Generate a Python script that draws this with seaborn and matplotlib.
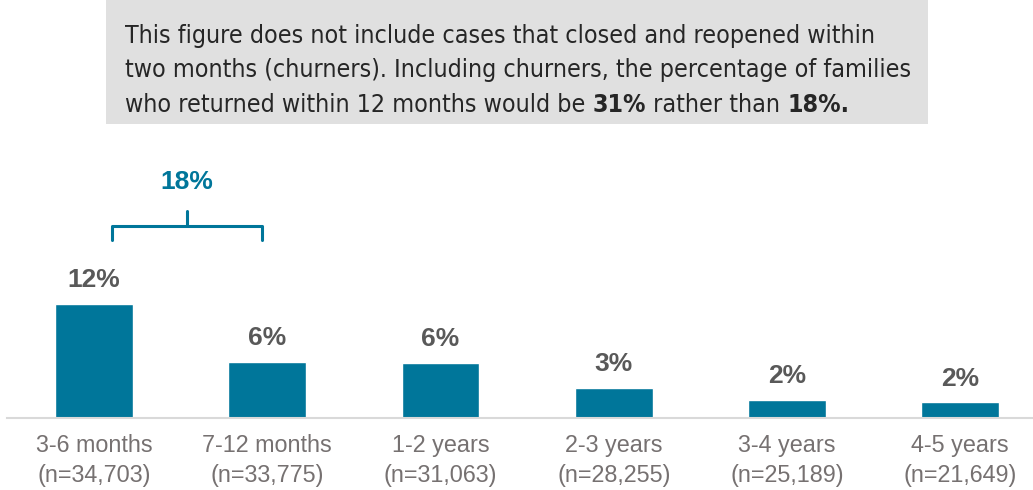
import matplotlib
matplotlib.use("Agg")
import matplotlib.pyplot as plt
import seaborn as sns
from matplotlib.patches import Rectangle

categories = ["3-6 months", "7-12 months", "1-2 years", "2-3 years", "3-4 years", "4-5 years"]
counts = ["n=34,703", "n=33,775", "n=31,063", "n=28,255", "n=25,189", "n=21,649"]
values = [12.0, 5.9, 5.8, 3.1, 1.9, 1.6]
value_labels = ["12%", "6%", "6%", "3%", "2%", "2%"]
bracket_label = "18%"

sns.set_theme(style="white")
plt.rcParams["font.family"] = ["Liberation Sans", "DejaVu Sans"]

BAR = "#00769a"
DARK = "#595959"
TICK = "#767171"

W, H = 1033, 490
fig = plt.figure(figsize=(W / 100, H / 100), dpi=100)
left_px, base_px = 7.4, 417.5
ax = fig.add_axes([left_px / W, (H - base_px) / H, 1 - left_px / W, base_px / H])

sns.barplot(x=categories, y=values, color=BAR, saturation=1, width=0.45, ax=ax)
ax.set_xlim(-0.5, 5.42)
ax.set_ylim(0, base_px / 9.44)

for s in ["top", "right", "left"]:
    ax.spines[s].set_visible(False)
ax.spines["bottom"].set_color("#d9d9d9")
ax.spines["bottom"].set_linewidth(1.5)
ax.set_yticks([])
ax.set_ylabel("")
ax.set_xlabel("")
ax.set_xticks(range(len(categories)))
ax.set_xticklabels([f"{c}\n({n})" for c, n in zip(categories, counts)],
                   fontsize=16.8, color=TICK, linespacing=1.38)
ax.tick_params(axis="x", length=0, pad=12)

for i, (v, lab) in enumerate(zip(values, value_labels)):
    ax.annotate(lab, xy=(i, v), xytext=(0, 8.5), textcoords="offset points",
                ha="center", va="bottom", fontsize=19, fontweight="bold", color=DARK)

# bracket over first two bars
bx0, bx1 = 0.104, 0.97
bxm = (bx0 + bx1) / 2
yh, ye, yt = 20.3, 18.8, 21.9
ax.plot([bx0, bx0, bx1, bx1], [ye, yh, yh, ye], color=BAR, lw=2.2,
        solid_joinstyle="round", clip_on=False)
ax.plot([bxm, bxm], [yh, yt], color=BAR, lw=2.2, clip_on=False)
ax.text(bxm, 25.0, bracket_label, ha="center", va="center", fontsize=19,
        fontweight="bold", color=BAR)

# note box
fig.patches.append(Rectangle((106 / W, 1 - 124 / H), (928 - 106) / W, 124 / H,
                             transform=fig.transFigure, facecolor="#e0e0e0",
                             edgecolor="none", zorder=0))
note_kw = dict(fontsize=17.9, color="#262626", family="DejaVu Sans", fontstretch="condensed")
x0 = 125 / W
fig.text(x0, 1 - 43 / H, "This figure does not include cases that closed and reopened within",
         va="baseline", ha="left", **note_kw)
fig.text(x0, 1 - 77.5 / H, "two months (churners). Including churners, the percentage of families",
         va="baseline", ha="left", **note_kw)

pieces = [("who returned within 12 months would be ", "normal"), ("31%", "bold"),
          (" rather than ", "normal"), ("18%.", "bold")]
renderer = fig.canvas.get_renderer()
xcur = x0
for txt, wt in pieces:
    t = fig.text(xcur, 1 - 112 / H, txt, va="baseline", ha="left", fontweight=wt, **note_kw)
    bb = t.get_window_extent(renderer=renderer)
    xcur = bb.x1 / W

fig.savefig("out.png", dpi=100)
